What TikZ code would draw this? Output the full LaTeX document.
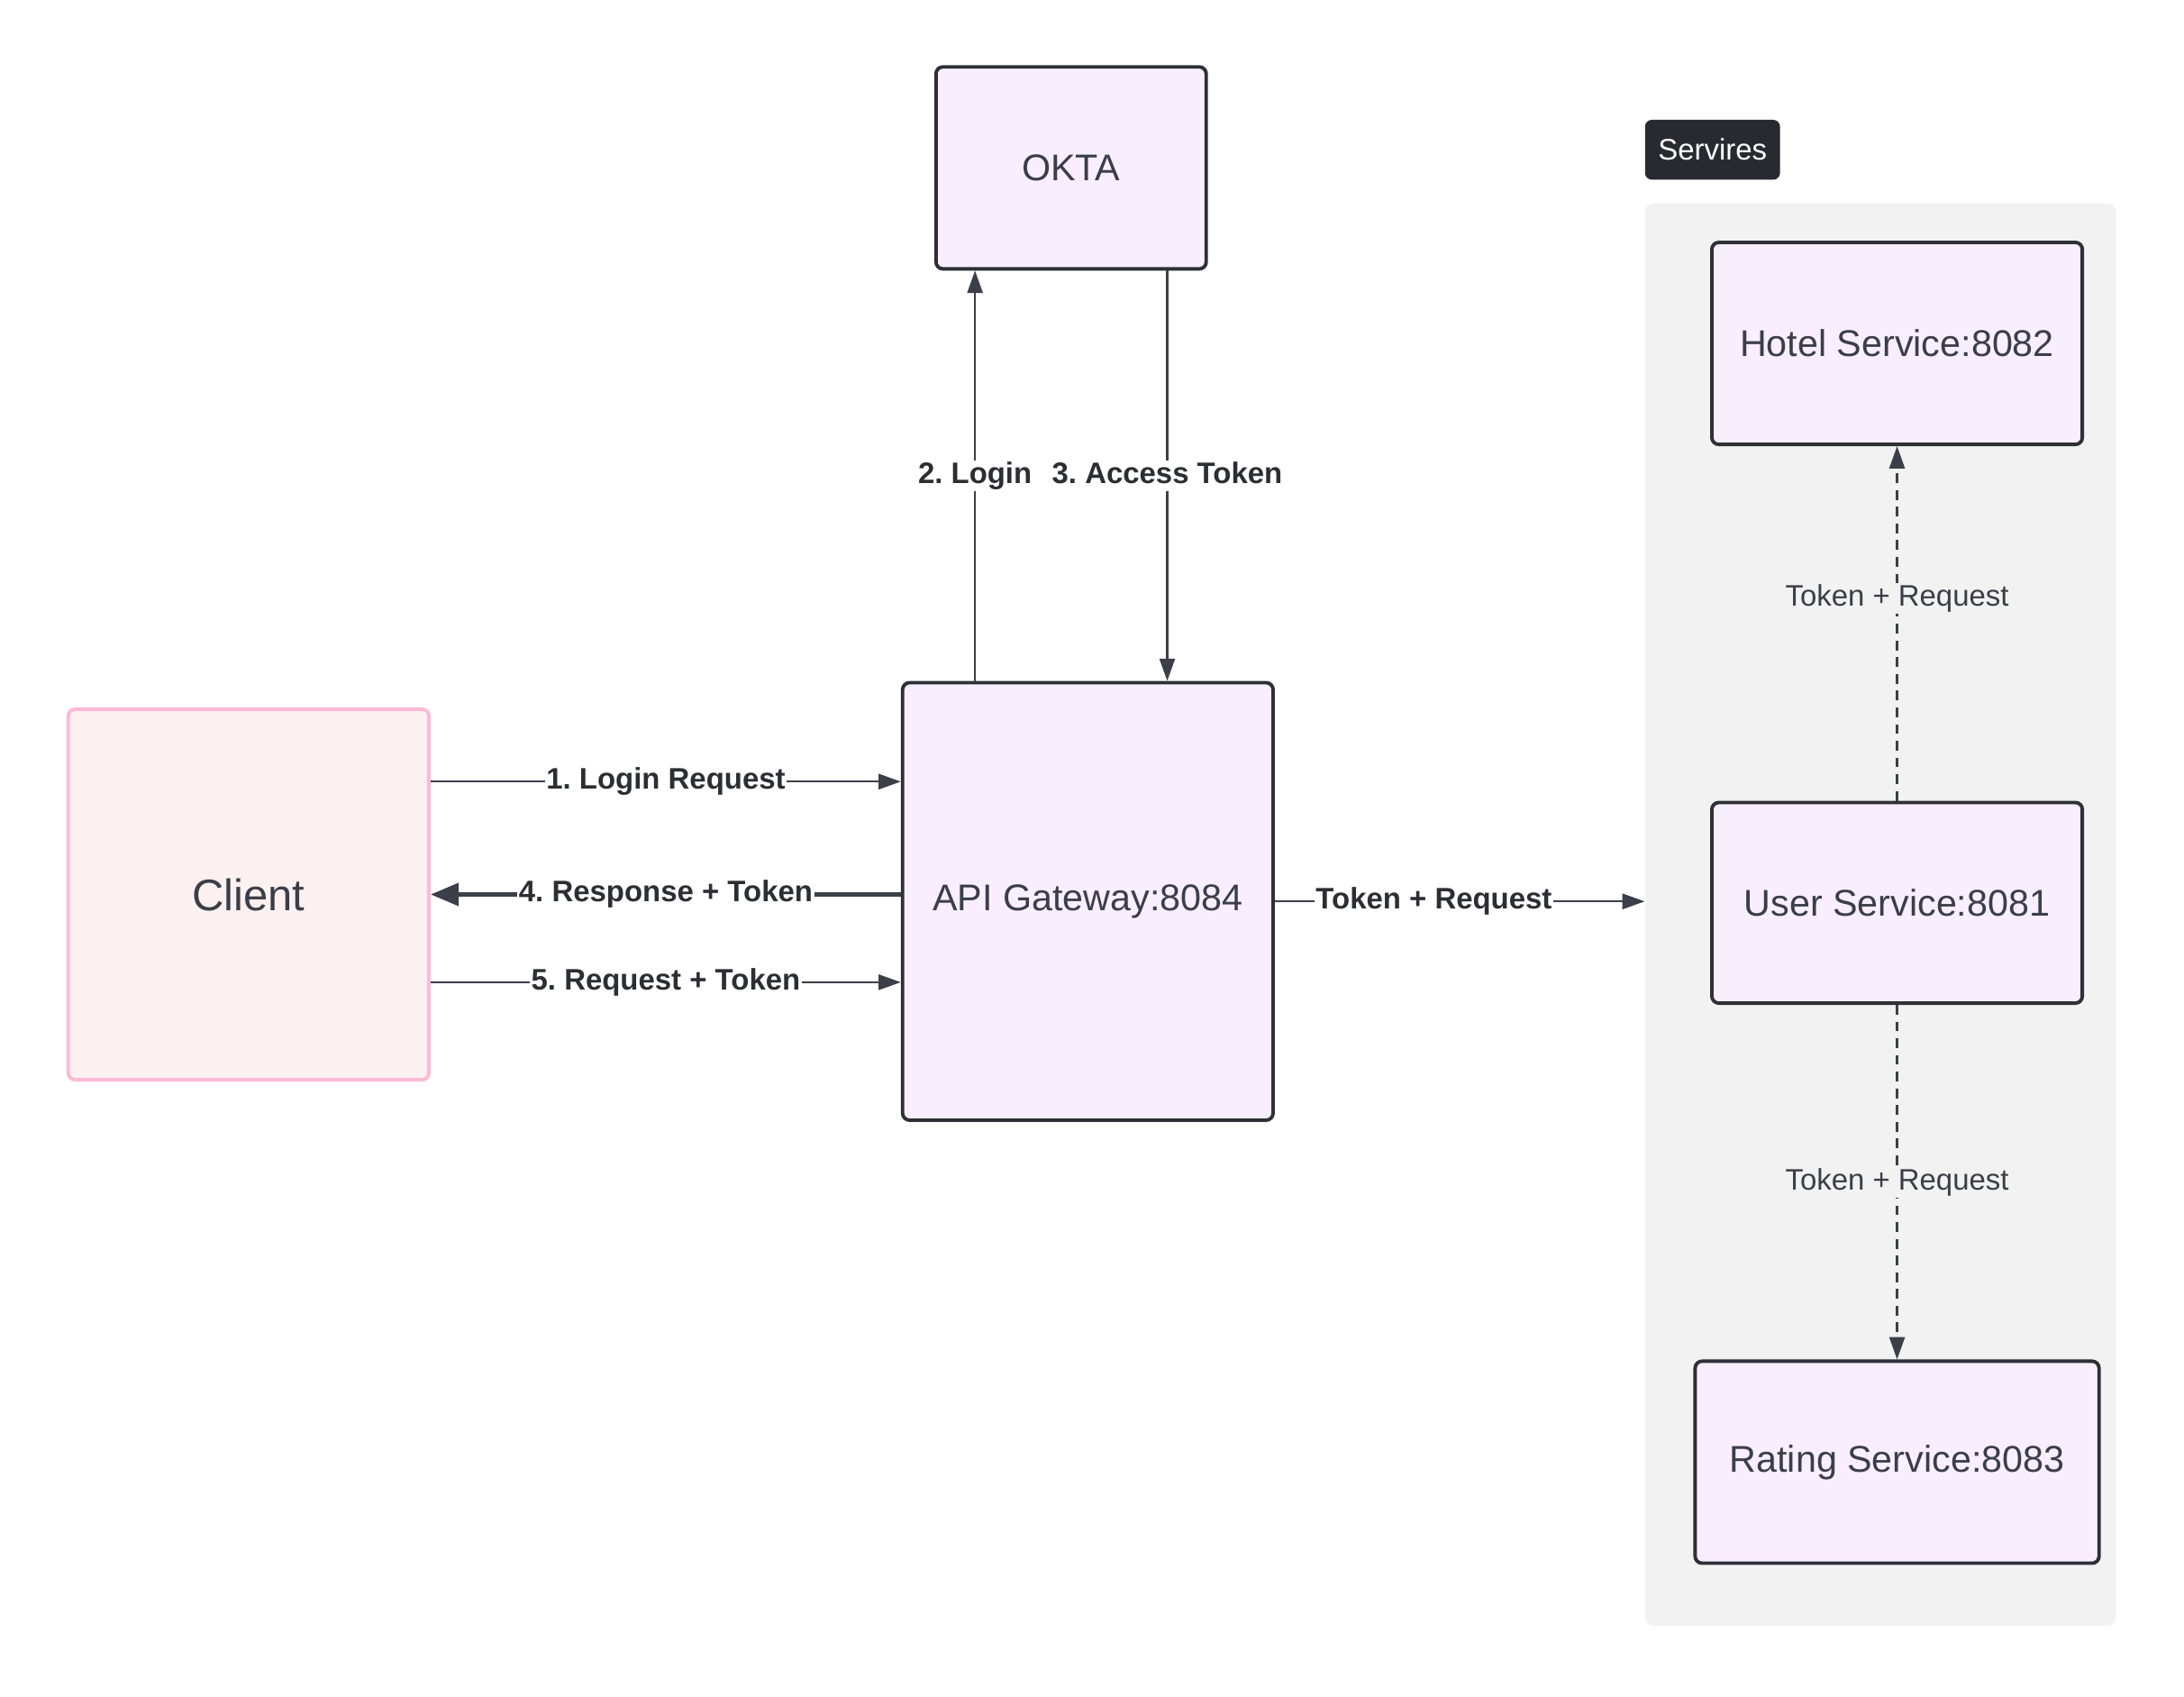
\documentclass[tikz,border=0pt]{standalone}
\usepackage{fontspec}
\setmainfont{Liberation Sans}
\usepackage{tikz}
\usetikzlibrary{arrows.meta}
\frenchspacing

\definecolor{boxfill}{HTML}{F9EEFD}
\definecolor{boxline}{HTML}{2D3037}
\definecolor{txt}{HTML}{3A3E49}
\definecolor{clientfill}{HTML}{FDF0F0}
\definecolor{clientline}{HTML}{FDBAD6}
\definecolor{grpfill}{HTML}{F2F2F2}
\definecolor{tagfill}{HTML}{272B31}
\definecolor{arrline}{HTML}{3B3F47}
\definecolor{lbltxt}{HTML}{2B2E33}

\begin{document}
\begin{tikzpicture}[x=1pt, y=-1pt,
	every node/.style={font=\fontsize{26.7pt}{32pt}\selectfont, text=txt},
	svc/.style={draw=boxline, fill=boxfill, line width=2.5pt, rounded corners=5pt, inner sep=0pt},
	lbl/.style={font=\bfseries\fontsize{21.3pt}{25pt}\selectfont, fill=white, text=lbltxt, inner sep=1pt, text height=15.5pt, text depth=4.5pt},
	dlbl/.style={font=\fontsize{21.3pt}{25pt}\selectfont, fill=grpfill, inner sep=1pt, text height=15.5pt, text depth=4.5pt},
	arr/.style={draw=arrline, line width=1.5pt, -{Triangle[length=16pt,width=11pt]}},
	darr/.style={arr, dash pattern=on 7pt off 5pt}]
	\useasboundingbox (0,0) rectangle (1568,1218);

	% services group
	\node[fill=grpfill, rounded corners=6pt, minimum width=338pt, minimum height=1021pt] (srv) at (1350,656.5) {};
	\node[fill=tagfill, text=white, rounded corners=5pt, minimum width=97pt, minimum height=43pt, font=\fontsize{21.3pt}{25pt}\selectfont] (tag) at (1229.5,107.5) {Servires};

	\node[svc, minimum width=194pt, minimum height=145pt] (okta) at (769,120.5) {OKTA};
	\node[svc, minimum width=266pt, minimum height=314pt] (gw) at (781,647) {API Gateway:8084};
	\node[draw=clientline, fill=clientfill, line width=2.5pt, rounded corners=5pt, minimum width=259pt, minimum height=266pt, font=\fontsize{31.7pt}{38pt}\selectfont] (client) at (178.5,642) {Client};

	\node[svc, minimum width=266pt, minimum height=145pt] (hotel) at (1362,246.5) {Hotel Service:8082};
	\node[svc, minimum width=266pt, minimum height=144pt] (user) at (1362,648) {User Service:8081};
	\node[svc, minimum width=290pt, minimum height=145pt] (rating) at (1362,1049.5) {Rating Service:8083};

	\coordinate (loginx) at (700,0);
	\coordinate (tokenx) at (838,0);
	\coordinate (req1) at (0,561);
	\coordinate (req5) at (0,705);

	% okta
	\draw[arr] (gw.north -| loginx) -- node[lbl] {2. Login} (okta.south -| loginx);
	\draw[arr] (okta.south -| tokenx) -- node[lbl] {3. Access Token} (gw.north -| tokenx);

	% client <-> gateway
	\draw[arr] (client.east |- req1) -- node[lbl] {1. Login Request} (gw.west |- req1);
	\draw[arr, line width=3pt, -{Triangle[length=20pt,width=16pt]}] (gw.west |- client) -- node[lbl] {4. Response + Token} (client.east);
	\draw[arr] (client.east |- req5) -- node[lbl] {5. Request + Token} (gw.west |- req5);

	% gateway -> services
	\draw[arr] (gw.east) -- node[lbl, pos=0.43] {Token + Request} (gw.east -| srv.west);
	\draw[darr] (user.north) -- node[dlbl, pos=0.57] {Token + Request} (hotel.south);
	\draw[darr] (user.south) -- node[dlbl] {Token + Request} (rating.north);
\end{tikzpicture}
\end{document}
